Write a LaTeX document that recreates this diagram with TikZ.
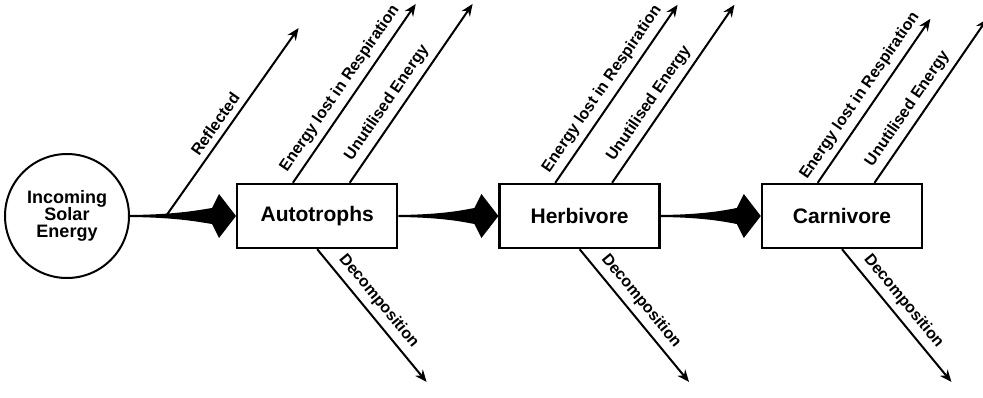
\documentclass[tikz,border=0pt]{standalone}
\usepackage{fontspec}
\setmainfont{Liberation Sans}
\usetikzlibrary{arrows.meta,positioning,calc}

\newcommand{\energyflow}[2]{%
  \fill ($(#1.east)+(0,1)$)
    .. controls ($(#1.east)!0.45!(#2.west)+(0,1.5)$) and ($(#1.east)!0.65!(#2.west)+(0,6)$)
    .. ($(#2.west)+(-24,8)$) -- ($(#2.west)+(-17,22)$) -- (#2.west)
    -- ($(#2.west)+(-17,-22)$) -- ($(#2.west)+(-24,-8)$)
    .. controls ($(#1.east)!0.65!(#2.west)+(0,-6)$) and ($(#1.east)!0.45!(#2.west)+(0,-1.5)$)
    .. ($(#1.east)+(0,-1)$) -- cycle;}

\begin{document}
\begin{tikzpicture}[
  x=0.5pt, y=0.5pt,
  node distance=50pt,
  level/.style={draw, line width=1.2pt, minimum width=80pt, minimum height=32pt, font=\fontsize{10.5}{12}\selectfont\bfseries},
  source/.style={draw, circle, line width=1pt, minimum size=62pt, inner sep=0pt, align=center, font=\fontsize{9}{8.5}\selectfont\bfseries},
  loss/.style={line width=1pt, -{Stealth[length=6pt, width=5pt]}},
  losslabel/.style={sloped, above, inner sep=3pt, font=\fontsize{8}{9}\selectfont\bfseries},
]
  \useasboundingbox (0,0) rectangle (983,397);

  \node[source] (sun) at (67,181) {Incoming\\Solar\\Energy};
  \node[level, right=53pt of sun]  (auto) {Autotrophs};
  \node[level, right=50pt of auto] (herb) {Herbivore};
  \node[level, right=50pt of herb] (carn) {Carnivore};

  \energyflow{sun}{auto}
  \energyflow{auto}{herb}
  \energyflow{herb}{carn}

  \coordinate (split) at ($(sun.east)+(36,0)$);
  \draw[loss] (split) -- ++(54.8:230) node[losslabel, pos=0.45] {Reflected};

  \foreach \lvl/\len in {auto/217, herb/216, carn/199} {
    \draw[loss] ($(\lvl.north west)!0.35!(\lvl.north east)$) -- ++(55.5:\len)
      node[losslabel, pos=0.48] {Energy lost in Respiration};
    \draw[loss] ($(\lvl.north west)!0.70!(\lvl.north east)$) -- ++(55.5:\len)
      node[losslabel, pos=0.40] {Unutilised Energy};
    \draw[loss] (\lvl.south) -- ++(-50.5:172)
      node[losslabel, pos=0.46] {Decomposition};
  }
\end{tikzpicture}
\end{document}
